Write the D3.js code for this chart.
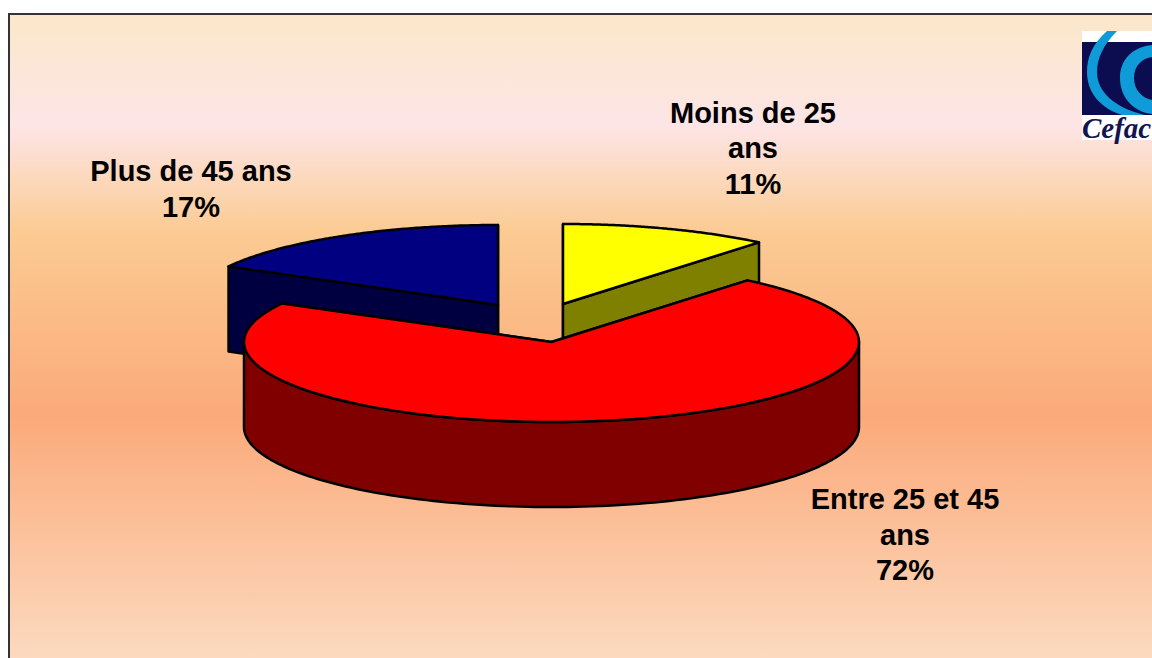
<!DOCTYPE html>
<html><head><meta charset="utf-8">
<script src="https://cdn.jsdelivr.net/npm/d3@7"></script>
<style>html,body{margin:0;padding:0;background:#fff;overflow:hidden}svg{display:block}</style>
</head><body><svg id="c" width="1152" height="658"></svg>
<script>
const categories = ["Moins de 25 ans", "Entre 25 et 45 ans", "Plus de 45 ans"];
const values = [11, 72, 17];
const topColors = ["#ffff00", "#ff0000", "#000080"];
const sideColors = ["#808000", "#800000", "#000040"];
const labelLines = [["Moins de 25", "ans", "11%"], ["Entre 25 et 45", "ans", "72%"], ["Plus de 45 ans", "17%"]];

const W = 1152, H = 658, RX = 307.5, RY = 80, DEPTH = 85;
const centers = [[563, 304], [551.5, 342], [498, 305]];
const labelPos = [[753, 122.5, 35.5], [905, 509, 35.5], [191, 180.5, 36.5]];

const svg = d3.select("#c");
const defs = svg.append("defs");
const grad = defs.append("linearGradient").attr("id", "bg").attr("x1", 0).attr("x2", 0).attr("y1", 0).attr("y2", 1);
[[0, "#fbe7c9"], [0.17, "#fde5e6"], [0.33, "#fbcb93"], [0.61, "#fbaa7a"], [1, "#fcdcc3"]]
  .forEach(([o, c]) => grad.append("stop").attr("offset", o).attr("stop-color", c));

svg.append("rect").attr("x", 9).attr("y", 14).attr("width", W).attr("height", H)
  .attr("fill", "url(#bg)").attr("stroke", "#333").attr("stroke-width", 2);

// Logo
defs.append("clipPath").attr("id", "logoClip").append("rect").attr("x", 1082).attr("y", 31).attr("width", 70).attr("height", 84);
const logo = svg.append("g");
logo.append("rect").attr("x", 1082).attr("y", 31).attr("width", 70).attr("height", 109).attr("fill", "#fff");
logo.append("rect").attr("x", 1082).attr("y", 42).attr("width", 70).attr("height", 73).attr("fill", "#0c0c50");
const logoG = logo.append("g").attr("clip-path", "url(#logoClip)");
logoG.append("path").attr("fill", "#0e9bd8")
  .attr("d", "M1107,31 C1092,44 1087,58 1087,72 C1087,92 1100,108 1122,115 L1145,115 C1115,108 1097,92 1097,72 C1097,58 1104,44 1117,31 Z");
logoG.append("path").attr("fill", "#0e9bd8")
  .attr("d", "M1152,45 C1132,47 1120,60 1120,78 C1120,98 1134,112 1152,114 L1152,100 C1142,98 1134,90 1134,78 C1134,66 1142,58 1152,57 Z");
logo.append("text").attr("x", 1082).attr("y", 138).attr("font-family", "Liberation Serif").attr("font-style", "italic").attr("font-weight", "bold")
  .attr("font-size", 29).attr("fill", "#14144e").text("Cefac");

// Pie
const pie = d3.pie().sort(null).value(d => d)(values);
const pt = (c, a, dy = 0) => [c[0] + RX * Math.sin(a), c[1] - RY * Math.cos(a) + dy];
const arcPts = (c, a0, a1, dy = 0) => d3.range(0, 121).map(i => pt(c, a0 + (a1 - a0) * i / 120, dy));
const line = d3.line();
const drawOrder = [2, 0, 1];

drawOrder.forEach(i => {
  const s = pie[i], c = centers[i];
  const g = svg.append("g").attr("stroke", "#000").attr("stroke-width", 2.5).attr("stroke-linejoin", "round");
  // cut faces
  [s.startAngle, s.endAngle].forEach(a => {
    const p = pt(c, a);
    g.append("path").attr("fill", sideColors[i])
      .attr("d", line([c, p, [p[0], p[1] + DEPTH], [c[0], c[1] + DEPTH]]) + "Z");
  });
  // outer wall, front half only
  const a0 = Math.max(s.startAngle, Math.PI / 2), a1 = Math.min(s.endAngle, 3 * Math.PI / 2);
  if (a1 > a0) {
    const topEdge = arcPts(c, a0, a1), botEdge = arcPts(c, a1, a0, DEPTH);
    g.append("path").attr("fill", sideColors[i]).attr("d", line(topEdge.concat(botEdge)) + "Z");
  }
  // top face
  g.append("path").attr("fill", topColors[i])
    .attr("d", line([c].concat(arcPts(c, s.startAngle, s.endAngle))) + "Z");
});

// Labels
labelLines.forEach((lines, i) => {
  const [x, y, lh] = labelPos[i];
  svg.append("text").attr("text-anchor", "middle").attr("font-family", "Liberation Sans").attr("font-weight", "bold")
    .attr("font-size", 29).attr("fill", "#000")
    .selectAll("tspan").data(lines).join("tspan").attr("x", x).attr("y", (d, k) => y + k * lh).text(d => d);
});
</script></body></html>
